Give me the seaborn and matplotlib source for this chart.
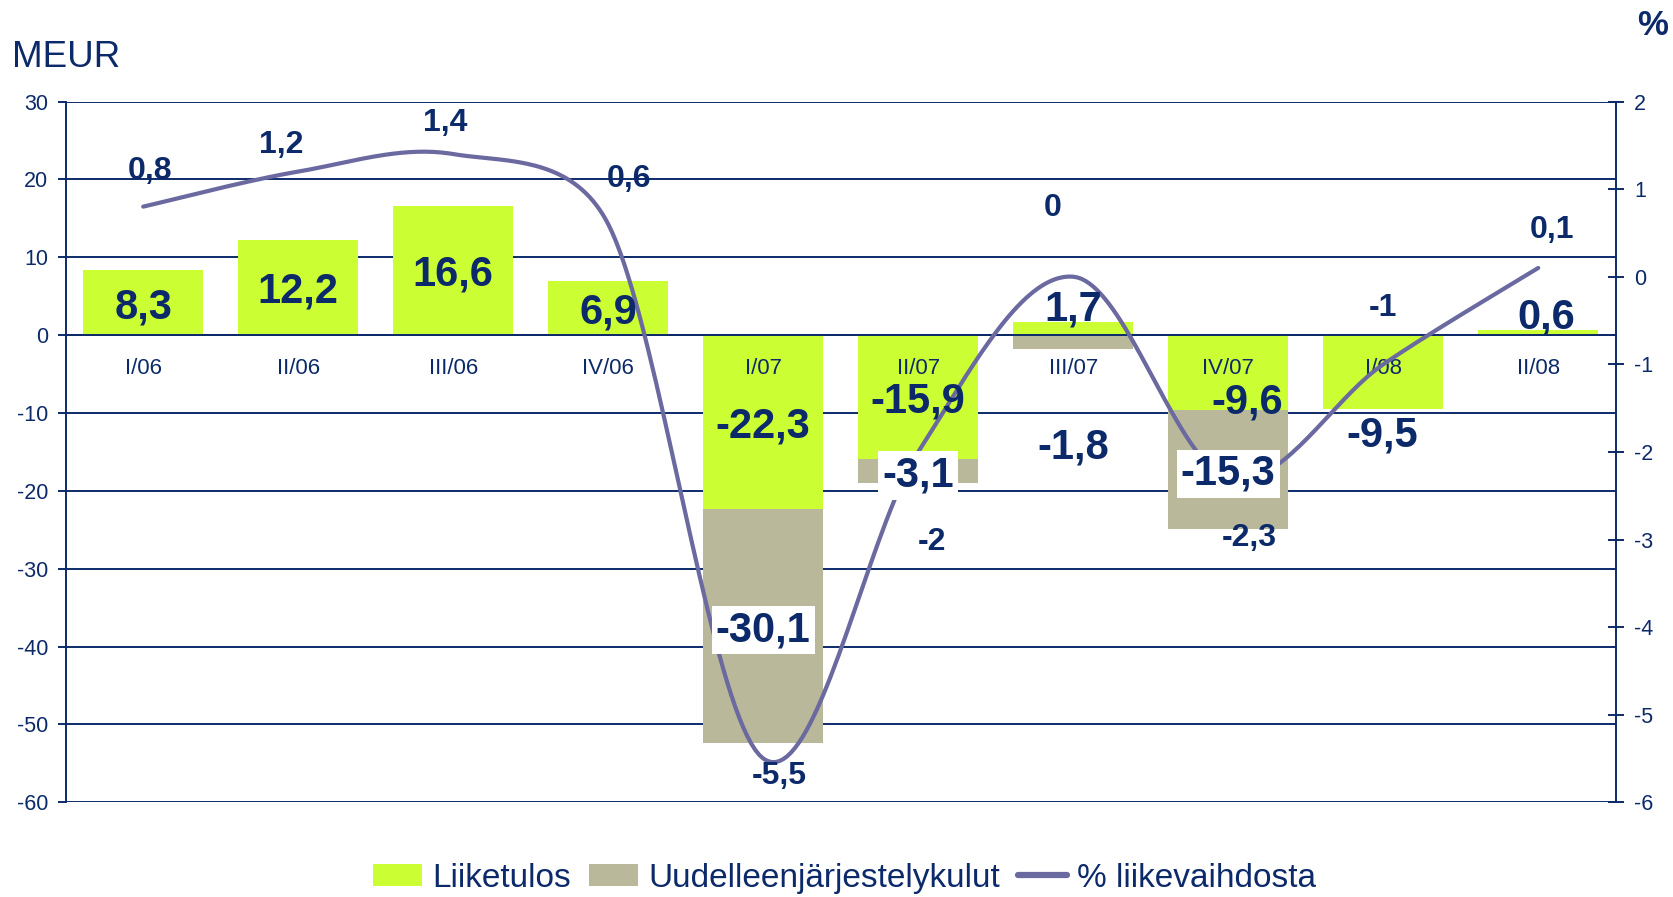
import matplotlib
matplotlib.use("Agg")
import matplotlib.pyplot as plt
from matplotlib.patches import Patch
from matplotlib.lines import Line2D
import numpy as np
import pandas as pd
import seaborn as sns

# data
quarters = ["I/06", "II/06", "III/06", "IV/06", "I/07", "II/07", "III/07", "IV/07", "I/08", "II/08"]
liiketulos = np.array([8.3, 12.2, 16.6, 6.9, -22.3, -15.9, 1.7, -9.6, -9.5, 0.6])
uudelleen = np.array([0, 0, 0, 0, -30.1, -3.1, -1.8, -15.3, 0, 0])
pct = np.array([0.8, 1.2, 1.4, 0.6, -5.5, -2.0, 0.0, -2.3, -1.0, 0.1])

# label nudges in pixels (dx, dy up), the original labels were hand placed
green_nudge = [(0, 0), (0, 0), (0, 0), (0, 0), (0, 0), (0, 0), (0, 23), (19, -26), (-1, -59), (8, 20)]
khaki_nudge = [(0, 0)] * 6 + [(0, -101)] + [(0, 0)] * 3
pct_nudge = [(7, 39), (-17, 30), (-8, 34), (21, 48), (16, -14), (14, -87), (-21, 72), (21, -56), (0, 60), (14, 41)]

NAVY = "#0c2a6a"
GREEN = "#ccff33"
KHAKI = "#b9b89a"
LINE = "#6a69a0"

sns.set_style("white")
plt.rcParams["font.family"] = ["Liberation Sans", "DejaVu Sans"]
plt.rcParams["axes.unicode_minus"] = False

# stacked ends (Excel stacks negatives and positives separately)
same = liiketulos * uudelleen > 0
khaki_end = np.where(same, liiketulos + uudelleen, uudelleen)
khaki_start = np.where(same, liiketulos, 0)

df = pd.DataFrame({"q": quarters, "green": liiketulos, "khaki": khaki_end})

fig = plt.figure(figsize=(16.74, 8.97), dpi=100)
ax = fig.add_axes([0.03925, 0.10557, 0.9652 - 0.03925, 0.88684 - 0.10557])

sns.barplot(data=df, x="q", y="khaki", color=KHAKI, saturation=1, width=0.775,
            errorbar=None, linewidth=0, ax=ax, zorder=1)
sns.barplot(data=df, x="q", y="green", color=GREEN, saturation=1, width=0.775,
            errorbar=None, linewidth=0, ax=ax, zorder=1)

ax.set_xlim(-0.5, 9.5)
ax.set_ylim(-60, 30)
yt = np.arange(-60, 31, 10)
ax.set_yticks(yt)
ax.set_xlabel("")
ax.set_ylabel("")
ax.grid(False)
ax.set_axisbelow(False)  # category labels sit on top of the bars
# gridlines under the bars
for y in yt:
    ax.axhline(y, color=NAVY, lw=1.4, zorder=0.5)
for s in ["top", "right"]:
    ax.spines[s].set_visible(False)
ax.spines["bottom"].set_position(("data", 0))
ax.spines["bottom"].set_color(NAVY)
ax.spines["bottom"].set_linewidth(1.4)
ax.spines["left"].set_color(NAVY)
ax.spines["left"].set_linewidth(1.4)

ax.set_xticks(np.arange(-0.5, 10, 1), minor=True)
ax.tick_params(axis="x", which="major", length=0, pad=16.5, labelsize=16, labelcolor=NAVY)
ax.tick_params(axis="x", which="minor", length=6, width=1.4, direction="out", color=NAVY)
ax.tick_params(axis="y", length=5.5, width=1.4, direction="out", color=NAVY,
               labelsize=15.5, labelcolor=NAVY, pad=7.2)

# % axis
ax2 = ax.twinx()
ax2.set_xlim(-0.5, 9.5)
ax2.set_ylim(-6, 2)
ax2.set_yticks(np.arange(-6, 3, 1))


def smooth(p, steps=40):
    # Catmull-Rom Bezier in screen space; controls of non-extreme points are
    # kept inside their segment so the curve does not bulge (like the original)
    n = len(p)
    ext = [0] + [i for i in range(1, n - 1)
                 if (p[i, 1] - p[i - 1, 1]) * (p[i + 1, 1] - p[i, 1]) < 0] + [n - 1]
    t = np.linspace(0, 1, steps)[1:, None]
    out = [p[:1]]
    for i in range(n - 1):
        p1, p2 = p[i], p[i + 1]
        tan1 = (p[min(i + 1, n - 1)] - p[max(i - 1, 0)]) / 6
        tan2 = (p[min(i + 2, n - 1)] - p[i]) / 6
        lo, hi = min(p1[1], p2[1]), max(p1[1], p2[1])
        c1 = p1 + tan1
        c2 = p2 - tan2
        if i not in ext and not lo <= c1[1] <= hi:
            bound = hi if c1[1] > hi else lo
            c1 = p1 + tan1 * (bound - p1[1]) / tan1[1]
        if i + 1 not in ext and not lo <= c2[1] <= hi:
            bound = hi if c2[1] > hi else lo
            c2 = p2 - tan2 * (p2[1] - bound) / tan2[1]
        seg = ((1 - t) ** 3 * p1 + 3 * (1 - t) ** 2 * t * c1
               + 3 * (1 - t) * t ** 2 * c2 + t ** 3 * p2)
        out.append(seg)
    return np.vstack(out)


disp = ax2.transData.transform(np.column_stack([np.arange(len(pct)), pct]))
curve = ax2.transData.inverted().transform(smooth(disp))
sns.lineplot(x=curve[:, 0], y=curve[:, 1], sort=False, estimator=None, color=LINE,
             lw=3, ax=ax2)
ax2.set_xlim(-0.5, 9.5)
ax2.set_ylim(-6, 2)
ax2.set_ylabel("")
for s in ["top", "left", "bottom"]:
    ax2.spines[s].set_visible(False)
ax2.spines["right"].set_color(NAVY)
ax2.spines["right"].set_linewidth(1.4)
ax2.tick_params(axis="y", direction="inout", length=11, width=1.4, color=NAVY,
                labelsize=15.5, labelcolor=NAVY, pad=7.7)


def fmt(v):
    if float(v).is_integer():
        return str(int(v))
    return f"{v:.1f}".replace(".", ",")


def put(text, x, y, nudge, size, trans, box=False):
    dx, dy = nudge
    dy -= 0.105 * size * 100 / 72  # centre the digits rather than the text box
    kw = dict(bbox=dict(boxstyle="square,pad=0.1", fc="white", ec="none")) if box else {}
    ax2.annotate(text, (x, y), xycoords=trans, xytext=(dx, dy), textcoords="offset pixels",
                 ha="center", va="center", fontsize=size, fontweight="bold", color=NAVY,
                 zorder=10, annotation_clip=False, **kw)


for i in range(len(quarters)):
    put(fmt(liiketulos[i]), i, liiketulos[i] / 2, green_nudge[i], 30, ax.transData)
    if uudelleen[i] != 0:
        mid = (khaki_start[i] + khaki_end[i]) / 2
        put(fmt(uudelleen[i]), i, mid, khaki_nudge[i], 30, ax.transData,
            box=abs(uudelleen[i]) > 2)
    put(fmt(pct[i]), i, pct[i], pct_nudge[i], 23, ax2.transData)

fig.text(12.5 / 1674, 1 - 66.7 / 897, "MEUR", fontsize=26.5, color=NAVY, ha="left", va="baseline")
fig.text(1637 / 1674, 1 - 35 / 897, "%", fontsize=25, fontweight="bold", color=NAVY,
         ha="left", va="baseline")

handles = [Patch(facecolor=GREEN, edgecolor="none"),
           Patch(facecolor=KHAKI, edgecolor="none"),
           Line2D([0], [0], color=LINE, lw=4.5)]
labels = ["Liiketulos", "Uudelleenjärjestelykulut", "% liikevaihdosta"]
leg = fig.legend(handles, labels, loc="center", bbox_to_anchor=(844.5 / 1674, 1 - 878 / 897),
                 ncol=3, frameon=False, fontsize=24, handlelength=1.47, handleheight=0.66,
                 handletextpad=0.3, columnspacing=0.54, borderaxespad=0, borderpad=0)
for txt in leg.get_texts():
    txt.set_color(NAVY)

fig.savefig("out.png", dpi=100)
